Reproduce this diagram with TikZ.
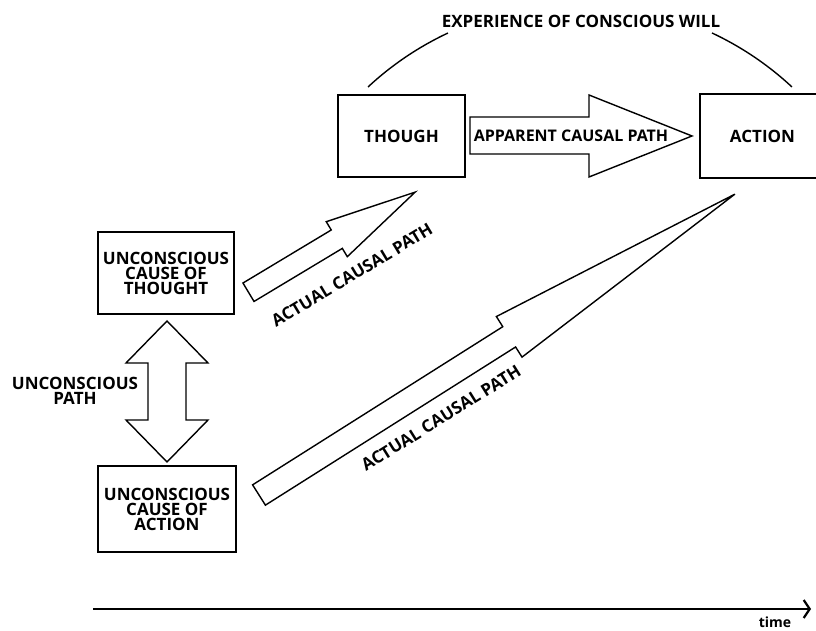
\documentclass[tikz,border=0pt]{standalone}
\usepackage{fontspec}
\setmainfont{Open Sans}
\usetikzlibrary{arrows.meta}
\newcommand{\lblfont}{\bfseries\fontsize{17}{15}\selectfont}
\begin{document}
\begin{tikzpicture}[x=1pt,y=1pt,
  box/.style={draw, line width=1.8pt, rectangle, inner sep=0pt, align=center, font=\lblfont},
  shapeline/.style={draw, line width=1.4pt, line join=miter, fill=white},
  lbl/.style={font=\lblfont, align=center, inner sep=0pt},
  arcline/.style={line width=1.4pt},
]
\useasboundingbox (0,0) rectangle (816,631);
\clip (0,0) rectangle (816,631);

% boxes
\node[box, minimum width=136pt, minimum height=82pt] (uct) at (166,358) {UNCONSCIOUS\\CAUSE OF\\THOUGHT};
\node[box, minimum width=138pt, minimum height=86pt] (uca) at (167,122) {UNCONSCIOUS\\CAUSE OF\\ACTION};
\node[box, minimum width=127pt, minimum height=82pt] (tho) at (401.5,495) {THOUGH};
\node[box, minimum width=125pt, minimum height=84pt] (act) at (762.5,495) {ACTION};

% unconscious path (double arrow)
\draw[shapeline] (167,310) -- (208,268) -- (186,268) -- (186,211) -- (208,211) -- (167,169)
  -- (126,211) -- (148,211) -- (148,268) -- (126,268) -- cycle;
\node[lbl] (up) at (75,240) {UNCONSCIOUS\\PATH};

% apparent causal path
\draw[shapeline] (470,514) -- (589,514) -- (589,536) -- (692,495) -- (589,454) -- (589,477) -- (470,477) -- cycle;
\node[lbl, font=\bfseries\fontsize{16}{15}\selectfont] (acp) at (571,495) {APPARENT CAUSAL PATH};

% actual causal path (to thought)
\begin{scope}[shift={(248.5,338.75)}, rotate=31]
\draw[shapeline] (0,-10.75) -- (103,-10.75) -- (103,-20.4) -- (194.4,0) -- (103,20.4) -- (103,10.75) -- (0,10.75) -- cycle;
\end{scope}
\node[lbl, rotate=31] (l1) at (352,356) {ACTUAL CAUSAL PATH};

% actual causal path (to action)
\begin{scope}[shift={(259,136)}, rotate=32.3]
\draw[shapeline] (0,-12) -- (296,-12) -- (296,-24) -- (563,0) -- (296,24) -- (296,12) -- (0,12) -- cycle;
\end{scope}
\node[lbl, rotate=32] (l2) at (441,213) {ACTUAL CAUSAL PATH};

% experience of conscious will
\node[lbl] (exp) at (581,610) {EXPERIENCE OF CONSCIOUS WILL};
\draw[arcline] (368,544) arc[start angle=132.94, end angle=115.1, radius=311pt];
\draw[arcline] (712,598) arc[start angle=64.9, end angle=47.06, radius=311pt];

% time axis
\coordinate (t0) at (93,22);
\coordinate (t1) at (811,22);
\draw[line width=2.2pt, -{Straight Barb[length=6pt,width=18pt]}] (t0) -- (t1);
\node[font=\bfseries\fontsize{14}{14}\selectfont, inner sep=0pt] (time) at (775,9) {time};
\end{tikzpicture}
\end{document}
